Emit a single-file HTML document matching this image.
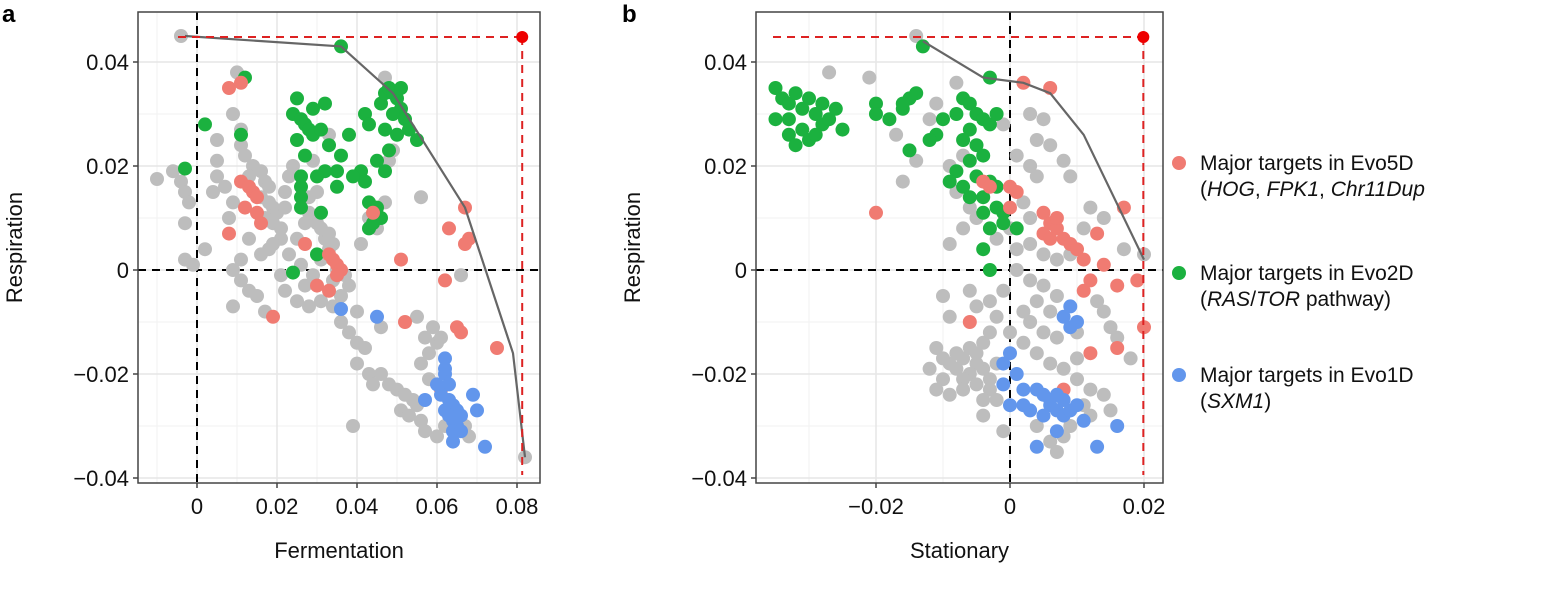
<!DOCTYPE html>
<html><head><meta charset="utf-8"><style>
body{margin:0;background:#fff;font-family:"Liberation Sans",Arial,sans-serif}
svg text{font-family:"Liberation Sans",Arial,sans-serif}
</style></head><body>
<svg id="fig" width="1564" height="584" viewBox="0 0 1564 584" xmlns="http://www.w3.org/2000/svg">
<text x="2" y="22" font-size="24" font-weight="bold">a</text>
<text x="622" y="22" font-size="24" font-weight="bold">b</text>
<g font-size="21" fill="#111">
<circle cx="1179" cy="163" r="7" fill="#f07b72"/>
<text x="1200" y="170">Major targets in Evo5D</text>
<text x="1200" y="196">(<tspan font-style="italic">HOG</tspan>, <tspan font-style="italic">FPK1</tspan>, <tspan font-style="italic">Chr11Dup</tspan></text>
<circle cx="1179" cy="273" r="7" fill="#1bb13f"/>
<text x="1200" y="280">Major targets in Evo2D</text>
<text x="1200" y="306">(<tspan font-style="italic">RAS</tspan>/<tspan font-style="italic">TOR</tspan> pathway)</text>
<circle cx="1179" cy="375" r="7" fill="#6296ec"/>
<text x="1200" y="382">Major targets in Evo1D</text>
<text x="1200" y="408">(<tspan font-style="italic">SXM1</tspan>)</text>
</g>
</svg>
<script>
// ---- shared y axis ----
const yTicks=[0.04,0.02,0,-0.02,-0.04];
const yTickLabels=["0.04","0.02","0","\u22120.02","\u22120.04"];
// ---- panel a data ----
const aXTicks=[0,0.02,0.04,0.06,0.08];
const aXTickLabels=["0","0.02","0.04","0.06","0.08"];
const aGray=[[-0.004,0.045],[-0.01,0.0175],[-0.006,0.019],[-0.004,0.017],[-0.003,0.015],[-0.003,0.009],[-0.002,0.013],[-0.003,0.002],[-0.001,0.001],[0.002,0.004],[0.005,0.025],[0.005,0.021],[0.005,0.018],[0.004,0.015],[0.007,0.016],[0.009,0.013],[0.008,0.010],[0.010,0.038],[0.009,0.030],[0.011,0.027],[0.011,0.024],[0.012,0.022],[0.014,0.020],[0.013,0.018],[0.016,0.019],[0.017,0.017],[0.018,0.016],[0.016,0.014],[0.018,0.013],[0.019,0.012],[0.020,0.011],[0.017,0.010],[0.019,0.009],[0.021,0.008],[0.022,0.015],[0.023,0.018],[0.024,0.020],[0.022,0.012],[0.021,0.006],[0.019,0.005],[0.018,0.004],[0.016,0.003],[0.013,0.006],[0.011,0.002],[0.009,0.0],[0.011,-0.002],[0.013,-0.004],[0.015,-0.005],[0.009,-0.007],[0.017,-0.008],[0.021,-0.001],[0.023,0.003],[0.025,0.006],[0.027,0.009],[0.028,0.011],[0.030,0.009],[0.031,0.008],[0.032,0.006],[0.033,0.007],[0.034,0.005],[0.033,0.004],[0.031,0.002],[0.029,-0.001],[0.027,-0.003],[0.025,-0.006],[0.028,-0.007],[0.031,-0.006],[0.034,-0.007],[0.036,-0.005],[0.038,-0.003],[0.036,-0.010],[0.038,-0.012],[0.040,-0.014],[0.042,-0.015],[0.040,-0.018],[0.043,-0.020],[0.044,-0.022],[0.046,-0.020],[0.048,-0.022],[0.050,-0.023],[0.052,-0.024],[0.054,-0.025],[0.051,-0.027],[0.053,-0.028],[0.055,-0.026],[0.056,-0.029],[0.057,-0.031],[0.058,-0.021],[0.056,-0.018],[0.058,-0.016],[0.060,-0.014],[0.059,-0.011],[0.061,-0.013],[0.057,-0.013],[0.055,-0.009],[0.062,-0.030],[0.060,-0.032],[0.067,-0.030],[0.068,-0.032],[0.082,-0.036],[0.039,-0.030],[0.046,-0.011],[0.047,0.037],[0.049,0.023],[0.048,0.021],[0.047,0.013],[0.033,0.026],[0.029,0.021],[0.030,0.015],[0.028,0.014],[0.043,0.010],[0.041,0.005],[0.045,0.008],[0.035,0.0],[0.037,-0.001],[0.034,-0.002],[0.056,0.014],[0.066,-0.001],[0.040,-0.008],[0.022,-0.004],[0.026,0.001]];
const aGreen=[[0.036,0.043],[0.012,0.037],[0.002,0.028],[0.011,0.026],[-0.003,0.0195],[0.025,0.033],[0.024,0.030],[0.026,0.029],[0.027,0.028],[0.028,0.027],[0.025,0.025],[0.029,0.026],[0.031,0.027],[0.033,0.024],[0.027,0.022],[0.036,0.022],[0.038,0.026],[0.042,0.030],[0.043,0.028],[0.046,0.032],[0.047,0.034],[0.048,0.035],[0.050,0.033],[0.051,0.031],[0.049,0.030],[0.052,0.029],[0.053,0.027],[0.050,0.026],[0.047,0.027],[0.055,0.025],[0.045,0.021],[0.047,0.019],[0.041,0.019],[0.042,0.017],[0.039,0.018],[0.035,0.019],[0.032,0.019],[0.030,0.018],[0.026,0.018],[0.026,0.016],[0.026,0.014],[0.026,0.012],[0.031,0.011],[0.035,0.016],[0.043,0.013],[0.045,0.012],[0.046,0.010],[0.043,0.008],[0.044,0.009],[0.030,0.003],[0.024,-0.0005],[0.032,0.032],[0.029,0.031],[0.048,0.023],[0.049,0.034],[0.051,0.035]];
const aRed=[[0.008,0.035],[0.011,0.036],[0.011,0.017],[0.013,0.016],[0.014,0.015],[0.015,0.014],[0.012,0.012],[0.015,0.011],[0.016,0.009],[0.008,0.007],[0.027,0.005],[0.033,0.003],[0.034,0.002],[0.035,0.001],[0.036,0.0],[0.035,-0.001],[0.030,-0.003],[0.033,-0.004],[0.019,-0.009],[0.044,0.011],[0.051,0.002],[0.067,0.012],[0.063,0.008],[0.068,0.006],[0.067,0.005],[0.062,-0.002],[0.052,-0.010],[0.065,-0.011],[0.066,-0.012],[0.075,-0.015],[0.061,-0.023]];
const aBlue=[[0.036,-0.0075],[0.045,-0.009],[0.062,-0.017],[0.062,-0.020],[0.063,-0.022],[0.061,-0.024],[0.063,-0.025],[0.064,-0.026],[0.062,-0.027],[0.065,-0.027],[0.063,-0.028],[0.064,-0.029],[0.066,-0.028],[0.065,-0.030],[0.064,-0.031],[0.066,-0.031],[0.057,-0.025],[0.069,-0.024],[0.070,-0.027],[0.064,-0.033],[0.072,-0.034],[0.060,-0.022],[0.062,-0.019]];
const aFront=[[-0.003,0.045],[0.036,0.043],[0.049,0.034],[0.067,0.012],[0.079,-0.016],[0.082,-0.036]];
const aIdeal=[0.0813,0.0448];
// ---- panel b data ----
const bXTicks=[-0.02,0,0.02];
const bXTickLabels=["\u22120.02","0","0.02"];
const bGray=[[-0.014,0.045],[-0.027,0.038],[-0.021,0.037],[-0.008,0.036],[-0.011,0.032],[-0.012,0.029],[-0.017,0.026],[-0.014,0.021],[-0.016,0.017],[-0.009,0.020],[-0.007,0.022],[-0.008,0.015],[-0.006,0.012],[-0.005,0.010],[0.003,0.030],[0.005,0.029],[0.004,0.025],[0.006,0.024],[0.001,0.022],[0.003,0.020],[0.008,0.021],[0.009,0.018],[0.004,0.018],[0.002,0.013],[0.003,0.010],[0.000,0.008],[-0.002,0.006],[0.001,0.004],[0.003,0.005],[0.005,0.003],[0.007,0.002],[0.009,0.003],[0.012,0.012],[0.011,0.008],[0.014,0.010],[0.017,0.004],[0.020,0.003],[0.001,0.000],[0.003,-0.002],[0.005,-0.003],[0.007,-0.005],[0.004,-0.006],[0.006,-0.008],[0.003,-0.010],[0.005,-0.012],[0.007,-0.013],[0.002,-0.014],[0.004,-0.016],[0.006,-0.018],[0.008,-0.019],[0.010,-0.021],[0.012,-0.023],[0.014,-0.024],[0.011,-0.026],[0.009,-0.030],[0.008,-0.032],[0.006,-0.033],[0.007,-0.035],[-0.001,-0.031],[-0.004,-0.028],[-0.002,-0.025],[-0.003,-0.021],[-0.004,-0.019],[-0.005,-0.018],[-0.006,-0.020],[-0.007,-0.021],[-0.008,-0.019],[-0.009,-0.018],[-0.007,-0.017],[-0.005,-0.016],[-0.008,-0.016],[-0.006,-0.015],[-0.004,-0.014],[-0.010,-0.017],[-0.011,-0.015],[-0.012,-0.019],[-0.010,-0.021],[-0.011,-0.023],[-0.009,-0.024],[-0.007,-0.023],[-0.005,-0.022],[-0.003,-0.023],[-0.004,-0.025],[-0.002,-0.018],[-0.009,-0.009],[-0.010,-0.005],[-0.006,-0.004],[-0.005,-0.007],[-0.003,-0.006],[-0.001,-0.004],[-0.002,-0.009],[0.000,-0.012],[-0.003,-0.012],[0.013,-0.006],[0.014,-0.008],[0.015,-0.011],[0.010,-0.012],[0.016,-0.013],[0.018,-0.017],[0.015,-0.027],[0.012,-0.028],[0.004,-0.030],[-0.007,0.008],[-0.009,0.005],[0.010,-0.017],[-0.001,0.028],[0.002,-0.008]];
const bGreen=[[-0.035,0.035],[-0.034,0.033],[-0.033,0.032],[-0.032,0.034],[-0.031,0.031],[-0.030,0.033],[-0.029,0.030],[-0.028,0.028],[-0.031,0.027],[-0.033,0.026],[-0.032,0.024],[-0.030,0.025],[-0.029,0.026],[-0.027,0.029],[-0.026,0.031],[-0.028,0.032],[-0.035,0.029],[-0.033,0.029],[-0.025,0.027],[-0.020,0.032],[-0.020,0.030],[-0.018,0.029],[-0.016,0.031],[-0.015,0.033],[-0.014,0.034],[-0.016,0.032],[-0.013,0.043],[-0.011,0.026],[-0.010,0.029],[-0.008,0.030],[-0.007,0.033],[-0.006,0.032],[-0.005,0.030],[-0.004,0.029],[-0.003,0.028],[-0.006,0.027],[-0.007,0.025],[-0.005,0.024],[-0.004,0.022],[-0.006,0.021],[-0.008,0.019],[-0.005,0.018],[-0.003,0.017],[-0.002,0.016],[-0.007,0.016],[-0.009,0.017],[-0.004,0.014],[-0.002,0.012],[-0.001,0.011],[-0.004,0.011],[-0.003,0.008],[-0.001,0.009],[0.001,0.008],[-0.004,0.004],[-0.003,0.000],[-0.002,0.030],[-0.006,0.014],[-0.015,0.023],[-0.012,0.025],[-0.003,0.037]];
const bRed=[[0.002,0.036],[0.006,0.035],[-0.020,0.011],[-0.004,0.017],[-0.003,0.016],[0.000,0.016],[0.001,0.015],[0.000,0.012],[0.005,0.011],[0.006,0.009],[0.007,0.008],[0.005,0.007],[0.006,0.006],[0.008,0.006],[0.009,0.005],[0.010,0.004],[0.013,0.007],[0.011,0.002],[0.014,0.001],[0.012,-0.002],[0.011,-0.004],[0.016,-0.003],[0.019,-0.002],[0.017,0.012],[0.020,-0.011],[0.016,-0.015],[0.012,-0.016],[0.008,-0.023],[-0.006,-0.010],[0.007,0.010]];
const bBlue=[[0.009,-0.007],[0.008,-0.009],[0.010,-0.010],[0.009,-0.011],[0.000,-0.016],[-0.001,-0.018],[0.001,-0.020],[-0.001,-0.022],[0.002,-0.023],[0.004,-0.023],[0.005,-0.024],[0.006,-0.025],[0.007,-0.024],[0.008,-0.025],[0.006,-0.026],[0.007,-0.027],[0.008,-0.028],[0.009,-0.027],[0.010,-0.026],[0.005,-0.028],[0.003,-0.027],[0.000,-0.026],[0.002,-0.026],[0.011,-0.029],[0.016,-0.030],[0.013,-0.034],[0.004,-0.034],[0.007,-0.031]];
const bFront=[[-0.013,0.044],[-0.004,0.037],[0.002,0.036],[0.006,0.034],[0.011,0.026],[0.020,0.002]];
const bIdeal=[0.0199,0.0448];

const NS="http://www.w3.org/2000/svg";
const svg=document.getElementById('fig');
function mk(tag,attrs,parent){const e=document.createElementNS(NS,tag);for(const k in attrs)e.setAttribute(k,attrs[k]);(parent||svg).appendChild(e);return e;}
const Y=v=>270-v*5200;

function panel(id,L,R,x0,xs,xMin,xMax,xt,xtl,gray,green,red,blue,front,ideal,dashStartX,xTitle){
  const X=v=>x0+v*xs;
  const T=12,B=483;
  const g=mk('g',{});
  
  
  for(let v=Math.ceil(xMin*100)/100; v<=xMax; v+=0.01){const l=mk('line',{x1:X(v),x2:X(v),y1:T,y2:B,stroke:'#f2f2f2','stroke-width':1},g);}
  for(let v=-0.04; v<=0.05; v+=0.01){const l=mk('line',{x1:L,x2:R,y1:Y(v),y2:Y(v),stroke:'#f2f2f2','stroke-width':1},g);}
  for(let v=Math.ceil(xMin*50-1e-9)/50; v<=xMax; v+=0.02){const l=mk('line',{x1:X(v),x2:X(v),y1:T,y2:B,stroke:'#e6e6e6','stroke-width':1.5},g);}
  yTicks.forEach(v=>{const l=mk('line',{x1:L,x2:R,y1:Y(v),y2:Y(v),stroke:'#e6e6e6','stroke-width':1.5},g);});
  let z=mk('line',{x1:X(0),x2:X(0),y1:T,y2:B,stroke:'#000','stroke-width':2,'stroke-dasharray':'8,6'},g);
  
  z=mk('line',{x1:L,x2:R,y1:Y(0),y2:Y(0),stroke:'#000','stroke-width':2,'stroke-dasharray':'8,6'},g);
  
  const groups=[[gray,'#bdbdbd','gray-point'],[green,'#1bb13f','evo2d-point'],[red,'#f07b72','evo5d-point'],[blue,'#6296ec','evo1d-point']];
  groups.forEach(([arr,col,nm])=>arr.forEach(p=>{const c=mk('circle',{cx:X(p[0]),cy:Y(p[1]),r:7,fill:col},g);
    
    }));
  const pl=mk('polyline',{points:front.map(p=>X(p[0])+','+Y(p[1])).join(' '),fill:'none',stroke:'#666','stroke-width':2.2},g);
  
  
  let d=mk('line',{x1:dashStartX,x2:X(ideal[0]),y1:Y(ideal[1]),y2:Y(ideal[1]),stroke:'#dd2222','stroke-width':2,'stroke-dasharray':'8,6'},g);
  
  d=mk('line',{x1:X(ideal[0]),x2:X(ideal[0]),y1:Y(ideal[1]),y2:B-8,stroke:'#dd2222','stroke-width':2,'stroke-dasharray':'8,6'},g);
  
  const ip=mk('circle',{cx:X(ideal[0]),cy:Y(ideal[1]),r:6,fill:'#ee0000'},g);
  
  const f=mk('rect',{x:L,y:T,width:R-L,height:B-T,fill:'none',stroke:'#444','stroke-width':1.5},g);
  
  yTicks.forEach((v,i)=>{const tk=mk('line',{x1:L-5,x2:L,y1:Y(v),y2:Y(v),stroke:'#444','stroke-width':1.5},g);
    
    const t=mk('text',{x:L-9,y:Y(v)+8,'font-size':22,'text-anchor':'end',fill:'#111'},g);t.textContent=yTickLabels[i];
    });
  xt.forEach((v,i)=>{const tk=mk('line',{x1:X(v),x2:X(v),y1:B,y2:B+5,stroke:'#444','stroke-width':1.5},g);
    
    const t=mk('text',{x:X(v),y:B+31,'font-size':22,'text-anchor':'middle',fill:'#111'},g);t.textContent=xtl[i];
    });
  const xtT=mk('text',{x:(L+R)/2,y:558,'font-size':22,'text-anchor':'middle',fill:'#111'},g);xtT.textContent=xTitle;
  
  const yx=L-116, yy=(T+B)/2;
  const ytT=mk('text',{x:yx,y:yy,'font-size':22,'text-anchor':'middle',fill:'#111',transform:`rotate(-90 ${yx} ${yy})`},g);ytT.textContent='Respiration';
  
}
panel('a',138,540,197,4000,-0.0148,0.0858,aXTicks,aXTickLabels,aGray,aGreen,aRed,aBlue,aFront,aIdeal,178,'Fermentation');
panel('b',756,1163,1010,6700,-0.0378,0.0228,bXTicks,bXTickLabels,bGray,bGreen,bRed,bBlue,bFront,bIdeal,773,'Stationary');
</script>
</body></html>
